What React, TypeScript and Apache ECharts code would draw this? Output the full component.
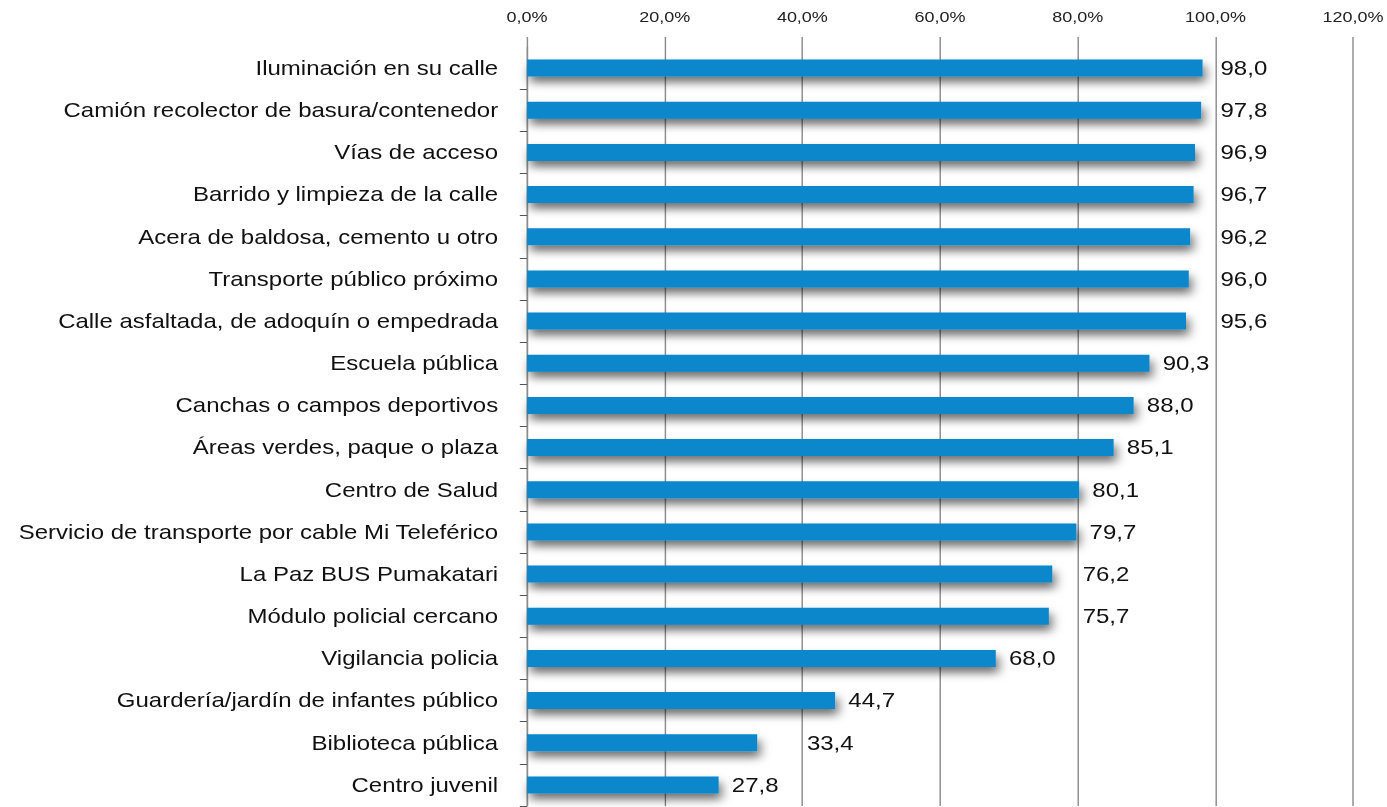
import React, { useEffect, useRef } from "react";
import * as echarts from "echarts";

const categories = [
  "Iluminación en su calle",
  "Camión recolector de basura/contenedor",
  "Vías de acceso",
  "Barrido y limpieza de la calle",
  "Acera de baldosa, cemento u otro",
  "Transporte público próximo",
  "Calle asfaltada, de adoquín o empedrada",
  "Escuela pública",
  "Canchas o campos deportivos",
  "Áreas verdes, paque o plaza",
  "Centro de Salud",
  "Servicio de transporte por cable Mi Teleférico",
  "La Paz BUS Pumakatari",
  "Módulo policial cercano",
  "Vigilancia policia",
  "Guardería/jardín de infantes público",
  "Biblioteca pública",
  "Centro juvenil",
];
const values = [98.0, 97.8, 96.9, 96.7, 96.2, 96.0, 95.6, 90.3, 88.0, 85.1, 80.1, 79.7, 76.2, 75.7, 68.0, 44.7, 33.4, 27.8];
const xTicks = [0, 20, 40, 60, 80, 100, 120];

const FONT = "'Liberation Sans', Arial, Helvetica, sans-serif";
const fmt = (v: number) => v.toFixed(1).replace(".", ",");

// the reference is horizontally stretched; render narrower and stretch with CSS
const SX = 1.2;
const W = 1387;
const H = 807;

export default function App() {
  const ref = useRef<HTMLDivElement>(null);
  useEffect(() => {
    if (!ref.current) return;
    const chart = echarts.init(ref.current, undefined, { renderer: "svg" });
    const gridCommon = { left: 527 / SX, right: 33 / SX, bottom: 1, containLabel: false };
    const LABEL_GAP = 11;
    const LABEL_W = 36;
    const buildData = (shifts: number[]) =>
      values.map((v, i) => ({
        value: v,
        label: { offset: [shifts[i] || 0, 0] },
      }));
    const option: any = {
      animation: false,
      textStyle: { fontFamily: FONT },
      grid: [
        { ...gridCommon, top: 37 },
        { ...gridCommon, top: 47 },
      ],
      xAxis: [
        {
          gridIndex: 0,
          type: "value",
          position: "top",
          min: 0,
          max: 120,
          interval: 20,
          axisLine: { show: false },
          axisTick: { show: false },
          splitLine: { show: true, lineStyle: { color: "#8c8c8c", width: 1.2 } },
          axisLabel: {
            margin: 12,
            fontSize: 15,
            color: "#222",
            fontFamily: FONT,
            formatter: (v: number) => (xTicks.includes(v) ? v.toFixed(1).replace(".", ",") + "%" : ""),
          },
        },
        {
          gridIndex: 1,
          type: "value",
          min: 0,
          max: 120,
          interval: 20,
          show: false,
        },
      ],
      yAxis: [
        { gridIndex: 0, type: "category", data: categories, inverse: true, show: false },
        {
          gridIndex: 1,
          type: "category",
          data: categories,
          inverse: true,
          axisLine: { show: true, lineStyle: { color: "#8c8c8c", width: 1.2 } },
          axisTick: {
            show: true,
            length: 6,
            interval: (i: number) => i !== 0,
            lineStyle: { color: "#555" },
          },
          axisLabel: { margin: 24, fontSize: 20, color: "#111", fontFamily: FONT, interval: 0 },
          splitLine: { show: false },
        },
      ],
      series: [
        {
          type: "bar",
          xAxisIndex: 1,
          yAxisIndex: 1,
          data: buildData([]),
          barWidth: 17,
          itemStyle: {
            color: "#0787cc",
            shadowColor: "rgba(0,0,0,0.55)",
            shadowBlur: 9,
            shadowOffsetX: 2.5,
            shadowOffsetY: 6,
          },
          label: {
            show: true,
            position: "right",
            distance: LABEL_GAP,
            fontSize: 20,
            color: "#111",
            fontFamily: FONT,
            formatter: (p: any) => fmt(p.value),
          },
        },
      ],
    };
    chart.setOption(option);
    // shift labels that would overlap a gridline to just past that gridline
    const gridPx = xTicks.map((t) => chart.convertToPixel({ xAxisIndex: 1 }, t) as number);
    const shifts = values.map((v) => {
      const end = chart.convertToPixel({ xAxisIndex: 1 }, v) as number;
      const start = end + LABEL_GAP;
      const hit = gridPx.find((g) => g >= start - 2.5 && g <= start + LABEL_W);
      return hit !== undefined ? hit + 3.5 - start : 0;
    });
    chart.setOption({ series: [{ data: buildData(shifts) }] });
    return () => chart.dispose();
  }, []);
  return (
    <div style={{ position: "fixed", left: 0, top: 0, width: W, height: H, background: "#fff", overflow: "hidden" }}>
      <div
        ref={ref}
        style={{
          width: W / SX,
          height: H,
          transform: `scaleX(${SX})`,
          transformOrigin: "0 0",
        }}
      />
    </div>
  );
}
